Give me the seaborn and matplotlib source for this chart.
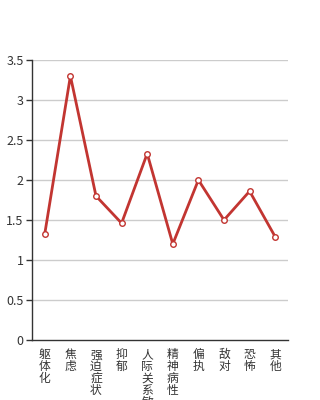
import matplotlib
matplotlib.use("Agg")
import matplotlib.pyplot as plt
import seaborn as sns
import pandas as pd
from matplotlib.ticker import FixedLocator, FuncFormatter

categories = ["躯体化", "焦虑", "强迫症状", "抑郁", "人际关系敏感", "精神病性", "偏执", "敌对", "恐怖", "其他"]
values = [1.33, 3.30, 1.80, 1.46, 2.33, 1.20, 2.00, 1.50, 1.86, 1.29]
y_ticks = [0, 0.5, 1, 1.5, 2, 2.5, 3, 3.5]

sns.set_theme(style="white")
plt.rcParams['font.family'] = ['Noto Sans CJK SC', 'DejaVu Sans']

df = pd.DataFrame({"cat": categories, "val": values})

fig = plt.figure(figsize=(3.2, 4.0), dpi=100)
ax = fig.add_axes([0.1, 0.15, 0.8, 0.70])

ax.set_axisbelow(True)
for y in y_ticks[1:]:
    ax.axhline(y, color="#cccccc", lw=1, zorder=0)

sns.lineplot(data=df, x="cat", y="val", ax=ax, color="#c23531", lw=2,
             marker="o", markersize=4, markerfacecolor="white",
             markeredgecolor="#c23531", markeredgewidth=1, sort=False, zorder=3)

ax.set_xlim(-0.5, len(categories) - 0.5)
ax.set_ylim(0, 3.5)
ax.set_yticks(y_ticks)
ax.yaxis.set_major_formatter(FuncFormatter(lambda v, p: f"{v:g}"))
ax.set_xticks(range(len(categories)))
ax.set_xticklabels(["\n".join(c) for c in categories], va="top", linespacing=0.88)
ax.xaxis.set_minor_locator(FixedLocator([i - 0.5 for i in range(len(categories) + 1)]))
ax.tick_params(axis="x", which="major", length=0, pad=6, labelsize=8.5, colors="#333333")
ax.tick_params(axis="x", which="minor", length=4, width=1, color="#333333", direction="out")
ax.tick_params(axis="y", which="major", length=4, width=1, color="#333333", direction="out",
               labelsize=9, labelcolor="#333333", pad=2, left=True)
ax.set_xlabel("")
ax.set_ylabel("")

for s in ["top", "right"]:
    ax.spines[s].set_visible(False)
ax.spines["left"].set_color("#333333")
ax.spines["bottom"].set_color("#333333")
ax.spines["left"].set_linewidth(1)
ax.spines["bottom"].set_linewidth(1)

fig.savefig("out.png", dpi=100)
